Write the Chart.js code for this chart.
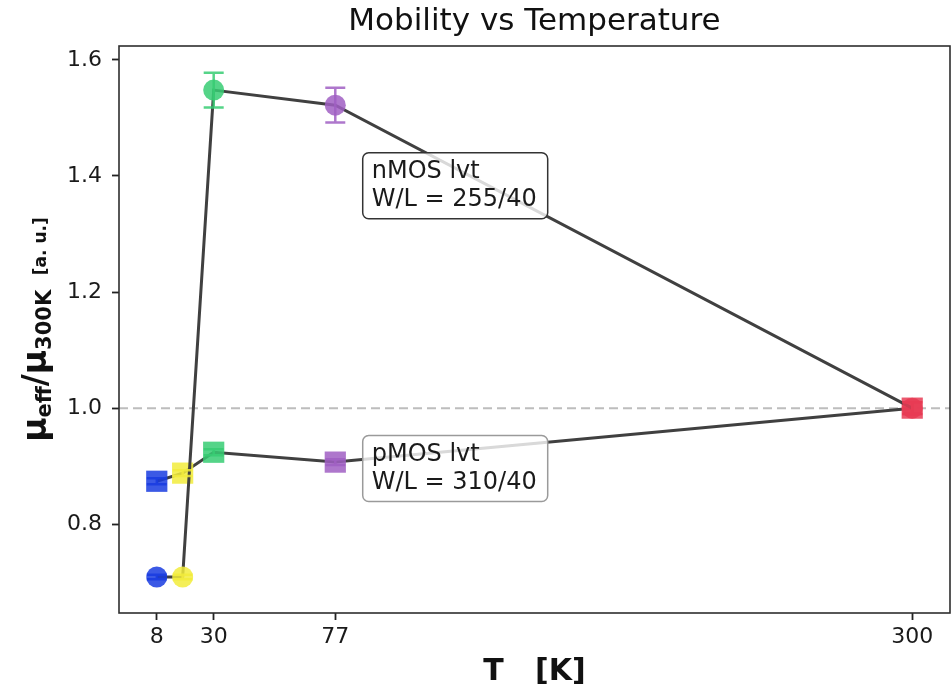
<!DOCTYPE html>
<html><head><meta charset="utf-8">
<script src="https://cdn.jsdelivr.net/npm/chart.js@4"></script>
<style>html,body{margin:0;padding:0;background:#fff;overflow:hidden}canvas{display:block}</style>
</head><body>
<canvas id="c" width="952" height="693"></canvas>
<script>
// ---- data ----
const temperaturesK = [8, 18, 30, 77, 300];
const nmosValues = [0.709, 0.709, 1.548, 1.522, 1.000];
const nmosErrors = [0.004, 0.004, 0.030, 0.030, 0.010];
const pmosValues = [0.874, 0.888, 0.924, 0.907, 1.000];
const pmosErrors = [0.005, 0.005, 0.005, 0.005, 0.010];
const xTickValues = [8, 30, 77, 300];
const yTickValues = [0.8, 1.0, 1.2, 1.4, 1.6];
const referenceLevel = 1.0;
const titleText = 'Mobility vs Temperature';
const xTitleText = 'T   [K]';
const annotationTexts = [['nMOS lvt', 'W/L = 255/40'], ['pMOS lvt', 'W/L = 310/40']];
const annotationAnchors = [{t: 87.6, v: 1.44}, {t: 87.6, v: 0.953}];

// ---- styles ----
const FONT = '"DejaVu Sans", "Liberation Sans", sans-serif';
const pointColors = ['rgba(25,60,225,0.85)', 'rgba(242,236,60,0.85)', 'rgba(55,205,115,0.85)', 'rgba(160,95,195,0.85)', 'rgba(232,60,85,0.85)'];
const lineColor = '#404040';
const annotationBorders = ['#333333', '#9a9a9a'];

const toXY = (vals) => temperaturesK.map((t, i) => ({x: t, y: vals[i]}));

const decor = {
  id: 'decor',
  beforeDatasetsDraw(chart) {
    const {ctx, chartArea: a, scales} = chart;
    const y = scales.y.getPixelForValue(referenceLevel);
    ctx.save();
    ctx.strokeStyle = '#bdbdbd';
    ctx.lineWidth = 2;
    ctx.setLineDash([9, 5]);
    ctx.beginPath(); ctx.moveTo(a.left, y); ctx.lineTo(a.right, y); ctx.stroke();
    ctx.restore();
  },
  afterDatasetsDraw(chart) {
    const {ctx, chartArea: a, scales} = chart;
    const xs = scales.x, ys = scales.y;
    // error bars
    ctx.save();
    ctx.lineWidth = 2.5;
    [[nmosValues, nmosErrors], [pmosValues, pmosErrors]].forEach(([vals, errs]) => {
      vals.forEach((v, i) => {
        const px = xs.getPixelForValue(temperaturesK[i]);
        const y1 = ys.getPixelForValue(v - errs[i]);
        const y2 = ys.getPixelForValue(v + errs[i]);
        ctx.strokeStyle = pointColors[i];
        ctx.beginPath();
        ctx.moveTo(px, y1); ctx.lineTo(px, y2);
        ctx.moveTo(px - 10, y1); ctx.lineTo(px + 10, y1);
        ctx.moveTo(px - 10, y2); ctx.lineTo(px + 10, y2);
        ctx.stroke();
      });
    });
    ctx.restore();
    // annotations
    ctx.save();
    ctx.font = '24px ' + FONT;
    annotationTexts.forEach((lines, k) => {
      const left = xs.getPixelForValue(annotationAnchors[k].t);
      const top = ys.getPixelForValue(annotationAnchors[k].v);
      const w = Math.max(...lines.map(l => ctx.measureText(l).width)) + 20;
      const lh = 28;
      const h = lines.length * lh + 10;
      ctx.beginPath();
      ctx.roundRect(left, top, w, h, 6);
      ctx.fillStyle = 'rgba(255,255,255,0.8)';
      ctx.fill();
      ctx.lineWidth = 1.5;
      ctx.strokeStyle = annotationBorders[k];
      ctx.stroke();
      ctx.fillStyle = '#1a1a1a';
      ctx.textBaseline = 'middle';
      ctx.textAlign = 'left';
      lines.forEach((l, j) => ctx.fillText(l, left + 9, top + 5 + lh / 2 + j * lh));
    });
    ctx.restore();
    // frame
    ctx.save();
    ctx.strokeStyle = '#2e2e2e';
    ctx.lineWidth = 1.6;
    ctx.strokeRect(a.left, a.top, a.right - a.left, a.bottom - a.top);
    ctx.restore();
  },
  afterDraw(chart) {
    const {ctx, chartArea: a} = chart;
    const cx = (a.left + a.right) / 2;
    ctx.save();
    ctx.fillStyle = '#111';
    ctx.textAlign = 'center';
    ctx.textBaseline = 'middle';
    ctx.font = '31px ' + FONT;
    ctx.fillText(titleText, cx, 22);
    ctx.font = 'bold 30px ' + FONT;
    ctx.fillText(xTitleText, cx, 672);
    // y title with subscripts
    const parts = [
      {t: 'μ', s: 33, dy: 0},
      {t: 'eff', s: 21, dy: 5},
      {t: '/', s: 33, dy: 0},
      {t: 'μ', s: 33, dy: 0},
      {t: '300K', s: 21, dy: 5},
      {t: '  ', s: 21, dy: 0},
      {t: '[a. u.]', s: 17, dy: 0}
    ];
    let total = 0;
    parts.forEach(p => { ctx.font = 'bold ' + p.s + 'px ' + FONT; p.w = ctx.measureText(p.t).width; total += p.w; });
    ctx.translate(46, (a.top + a.bottom) / 2);
    ctx.rotate(-Math.PI / 2);
    ctx.textAlign = 'left';
    ctx.textBaseline = 'alphabetic';
    let x = -total / 2;
    parts.forEach(p => {
      ctx.font = 'bold ' + p.s + 'px ' + FONT;
      ctx.fillText(p.t, x, p.dy);
      x += p.w;
    });
    ctx.restore();
  }
};

new Chart(document.getElementById('c'), {
  type: 'line',
  data: {
    datasets: [
      {
        label: 'nMOS lvt',
        data: toXY(nmosValues),
        borderColor: lineColor,
        borderWidth: 3,
        pointStyle: 'circle',
        pointRadius: 10.5,
        pointBorderWidth: 0,
        pointBackgroundColor: pointColors,
        pointBorderColor: pointColors,
        tension: 0
      },
      {
        label: 'pMOS lvt',
        data: toXY(pmosValues),
        borderColor: lineColor,
        borderWidth: 3,
        pointStyle: 'rect',
        pointRadius: 15,
        pointBorderWidth: 0,
        pointBackgroundColor: pointColors,
        pointBorderColor: pointColors,
        tension: 0
      }
    ]
  },
  options: {
    responsive: false,
    animation: false,
    devicePixelRatio: 1,
    layout: {autoPadding: false, padding: {top: 46, right: 2, left: 0, bottom: 0}},
    plugins: {legend: {display: false}, title: {display: false}, tooltip: {enabled: false}},
    scales: {
      x: {
        type: 'linear',
        min: -6.6, max: 314.6,
        afterBuildTicks: s => { s.ticks = xTickValues.map(v => ({value: v})); },
        afterFit: s => { s.height = 80; s.paddingLeft = 0; s.paddingRight = 0; },
        grid: {drawOnChartArea: false, drawTicks: true, tickLength: 7, tickColor: '#222', tickWidth: 1.8},
        border: {display: false},
        ticks: {color: '#1a1a1a', font: {family: FONT, size: 22}, padding: 4, callback: v => String(v), maxRotation: 0}
      },
      y: {
        type: 'linear',
        min: 0.647, max: 1.624,
        afterBuildTicks: s => { s.ticks = yTickValues.map(v => ({value: v})); },
        afterFit: s => { s.width = 119; s.paddingTop = 0; s.paddingBottom = 0; },
        grid: {drawOnChartArea: false, drawTicks: true, tickLength: 7, tickColor: '#222', tickWidth: 1.8},
        border: {display: false},
        ticks: {color: '#1a1a1a', font: {family: FONT, size: 22}, padding: 10, callback: v => Number(v).toFixed(1)}
      }
    }
  },
  plugins: [decor]
});
</script>
</body></html>
